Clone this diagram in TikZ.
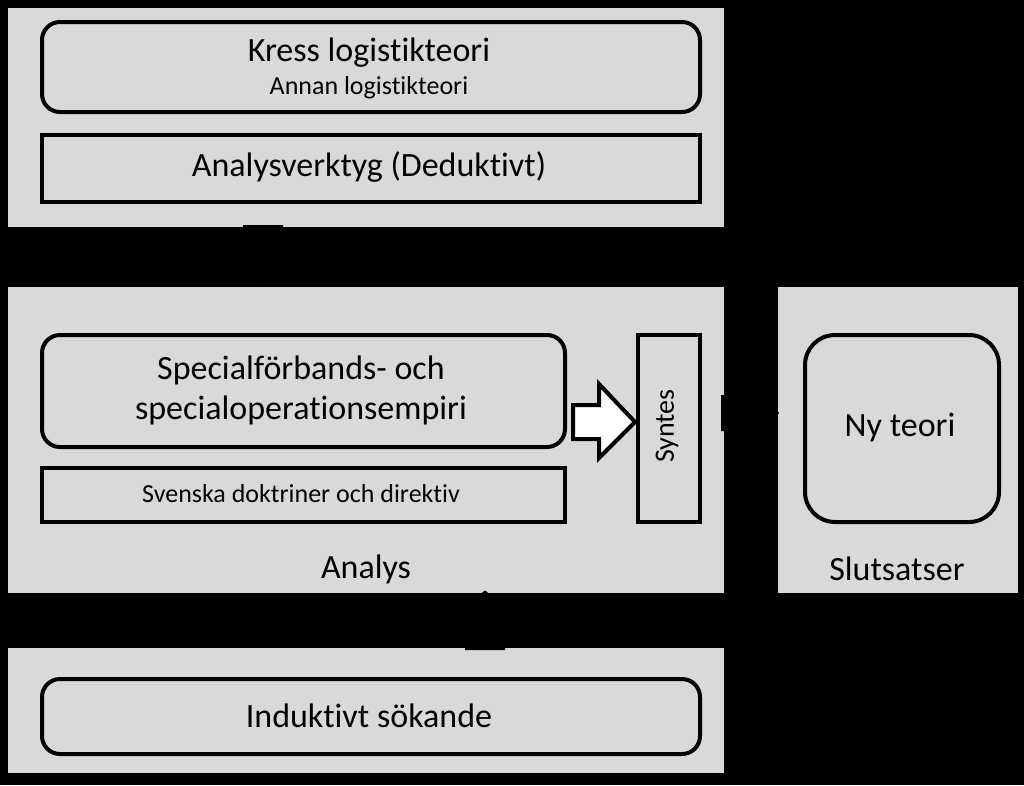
\documentclass[tikz,border=0pt]{standalone}
\usepackage{fontspec}
\setmainfont{Carlito}[Ligatures={NoCommon}]
\usetikzlibrary{arrows.meta}
\definecolor{panelgray}{HTML}{D9D9D9}
\begin{document}
\begin{tikzpicture}[x=1pt,y=-1pt,
  panel/.style={fill=panelgray,draw=none,inner sep=0pt,anchor=north west},
  sqbox/.style={draw=black,line width=4pt,inner sep=0pt,anchor=north west},
  rbox/.style={sqbox,rounded corners=18pt},
  txt/.style={inner sep=0pt,text=black},
  big/.style={font=\fontsize{34}{40}\selectfont},
  mid/.style={font=\fontsize{34}{40}\selectfont},
  rot/.style={font=\fontsize{28}{33}\selectfont},
  small/.style={font=\fontsize{26}{31}\selectfont},
  blockarrow/.style={fill=black,draw=none},
  whitearrow/.style={fill=white,draw=black,line width=4pt,line join=miter}]
\fill[black] (0,0) rectangle (1024,785);
\useasboundingbox (0,0) rectangle (1024,785);
% panels
\node[panel,minimum width=716pt,minimum height=219pt] (top) at (8,8) {};
\node[panel,minimum width=716pt,minimum height=306pt] (analys) at (8,287) {};
\node[panel,minimum width=240pt,minimum height=306pt] (slut) at (778,287) {};
\node[panel,minimum width=716pt,minimum height=125pt] (bottom) at (8,648) {};
% connectors between panels (black block arrows)
\coordinate (topfoot) at (263,225);
\coordinate (botfoot) at (485,650);
\coordinate (rightfoot) at (721,413);
\fill[blockarrow] ([xshift=-20pt]topfoot) -- ([xshift=20pt]topfoot) -- ([xshift=20pt]topfoot |- 0,262) -- ([xshift=36pt]topfoot |- 0,262) -- (topfoot |- analys.north) -- ([xshift=-36pt]topfoot |- 0,262) -- ([xshift=-20pt]topfoot |- 0,262) -- cycle;
\fill[blockarrow] ([xshift=-20pt]botfoot) -- ([xshift=20pt]botfoot) -- ([xshift=20pt]botfoot |- 0,620) -- ([xshift=36pt]botfoot |- 0,620) -- ([yshift=3pt]botfoot |- analys.south) -- ([xshift=-36pt]botfoot |- 0,620) -- ([xshift=-20pt]botfoot |- 0,620) -- cycle;
\fill[blockarrow] ([yshift=-18pt]rightfoot) -- ([yshift=-18pt]rightfoot -| 755,0) -- ([yshift=-34pt]rightfoot -| 755,0) -- ([xshift=1pt]rightfoot -| slut.west) -- ([yshift=34pt]rightfoot -| 755,0) -- ([yshift=18pt]rightfoot -| 755,0) -- ([yshift=18pt]rightfoot) -- cycle;
% top panel
\node[rbox,minimum width=658pt,minimum height=90pt] (kress) at (40,20) {};
\node[txt,big] (kresst) at (369,53) {Kress logistikteori};
\node[txt,small] (annan) at (369,88) {Annan logistikteori};
\node[sqbox,minimum width=658pt,minimum height=67pt] (verktyg) at (40,133) {};
\node[txt,big] (verktygt) at (369,167) {Analysverktyg (Deduktivt)};
% analysis panel
\node[rbox,minimum width=523pt,minimum height=112pt] (spec) at (40,333) {};
\node[txt,big,align=center] (spect) at (301,390) {Specialförbands- och\\specialoperationsempiri};
\node[sqbox,minimum width=523pt,minimum height=54pt] (sv) at (40,466) {};
\node[txt,small] (svt) at (301,494) {Svenska doktriner och direktiv};
\node[sqbox,minimum width=62pt,minimum height=187pt] (syntes) at (636,333) {};
\node[txt,rot,rotate=90] (syntest) at (667,426) {Syntes};
\node[txt,mid] (analyst) at (366,569) {Analys};
% synthesis arrow
\coordinate (wa) at (spec.east |- 0,422);
\draw[whitearrow] ([xshift=6pt,yshift=-17pt]wa) -- ([xshift=32pt,yshift=-17pt]wa) -- ([xshift=32pt,yshift=-36pt]wa) -- ([xshift=-1pt]syntes.west |- wa) -- ([xshift=32pt,yshift=38pt]wa) -- ([xshift=32pt,yshift=17pt]wa) -- ([xshift=6pt,yshift=17pt]wa) -- cycle;
% conclusions panel
\node[sqbox,rounded corners=30pt,minimum width=194pt,minimum height=187pt] (ny) at (803,333) {};
\node[txt,big] (nyt) at (900,428) {Ny teori};
\node[txt,mid] (slutt) at (897,569) {Slutsatser};
% bottom panel
\node[rbox,minimum width=658pt,minimum height=75pt] (ind) at (40,677) {};
\node[txt,big] (indt) at (369,716) {Induktivt sökande};
\end{tikzpicture}
\end{document}
